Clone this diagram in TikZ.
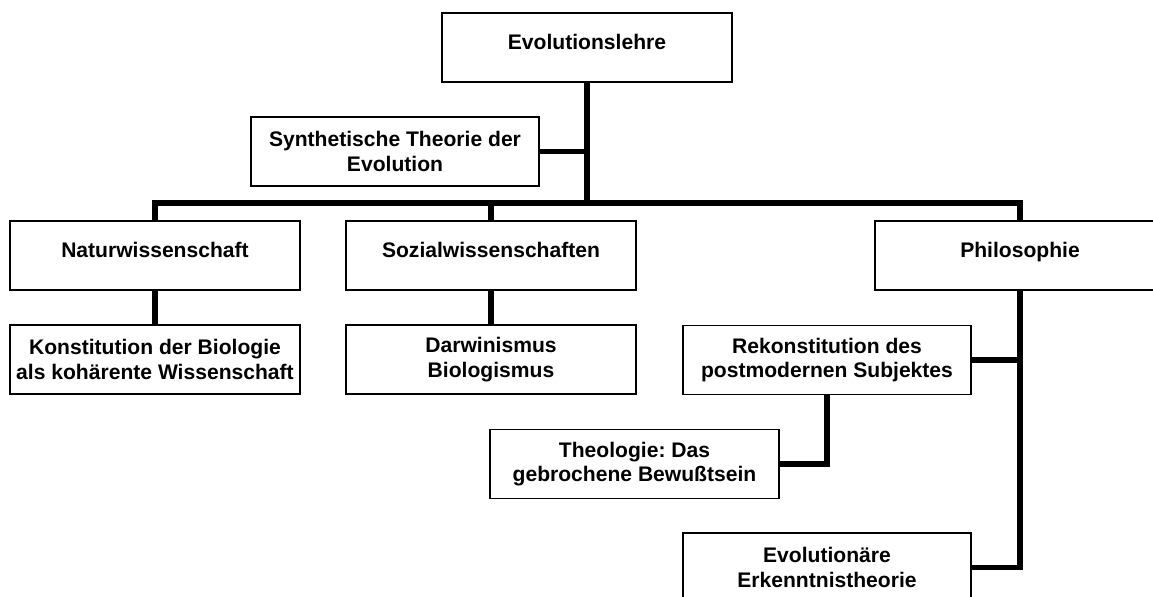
\documentclass[tikz,border=0pt]{standalone}
\usepackage{fontspec}
\setmainfont{Liberation Sans}
\frenchspacing
\usepackage{tikz}
\usetikzlibrary{positioning, calc}

\begin{document}
\begin{tikzpicture}[x=0.02cm, y=-0.02cm,
    font = \fontsize{12}{13.8}\selectfont\bfseries,
    box/.style = {draw, line width=0.9pt, fill=white, align=center, inner sep=1pt,
                  minimum width=5.8cm, minimum height=1.38cm},
    onebox/.style = {box, text height=8.6pt, text depth=6.6pt},
    link/.style = {line width=3.3pt}]
    \clip (0,0) rectangle (1153,597);

    \node[onebox] (lehre) at (587,47.5) {Evolutionslehre};
    \node[box, minimum width=5.76cm] (synth) at (395,151.5) {Synthetische Theorie der\\Evolution};
    \node[onebox] (natur) at (155,255.5) {Naturwissenschaft};
    \node[onebox] (sozial) at (491,255.5) {Sozialwissenschaften};
    \node[onebox] (philo) at (1020,255.5) {Philosophie};
    \node[box] (konst) at (155,359.5) {Konstitution der Biologie\\als koh\"arente Wissenschaft};
    \node[box] (darwin) at (491,359.5) {Darwinismus\\Biologismus};
    \node[box, minimum width=5.76cm] (rekon) at (827,360) {Rekonstitution des\\postmodernen Subjektes};
    \node[box, minimum width=5.78cm] (theo) at (634.5,464) {Theologie: Das\\gebrochene Bewu\ss tsein};
    \node[box, minimum width=5.76cm] (erkennt) at (827,567.5) {Evolution\"are\\Erkenntnistheorie};

    \coordinate (bar) at (587,203);

    \draw[link] (lehre.south) -- (bar);
    \draw[link] (synth.east) -- (synth.east -| bar);
    \draw[link] (bar) -| (natur.north);
    \draw[link] (bar) -| (sozial.north);
    \draw[link] (bar) -| (philo.north);
    \draw[link] (natur) -- (konst);
    \draw[link] (sozial) -- (darwin);
    \draw[link] (philo.south) |- (rekon.east);
    \draw[link] (philo.south) |- (erkennt.east);
    \draw[link] (rekon.south) |- (theo.east);
\end{tikzpicture}
\end{document}
